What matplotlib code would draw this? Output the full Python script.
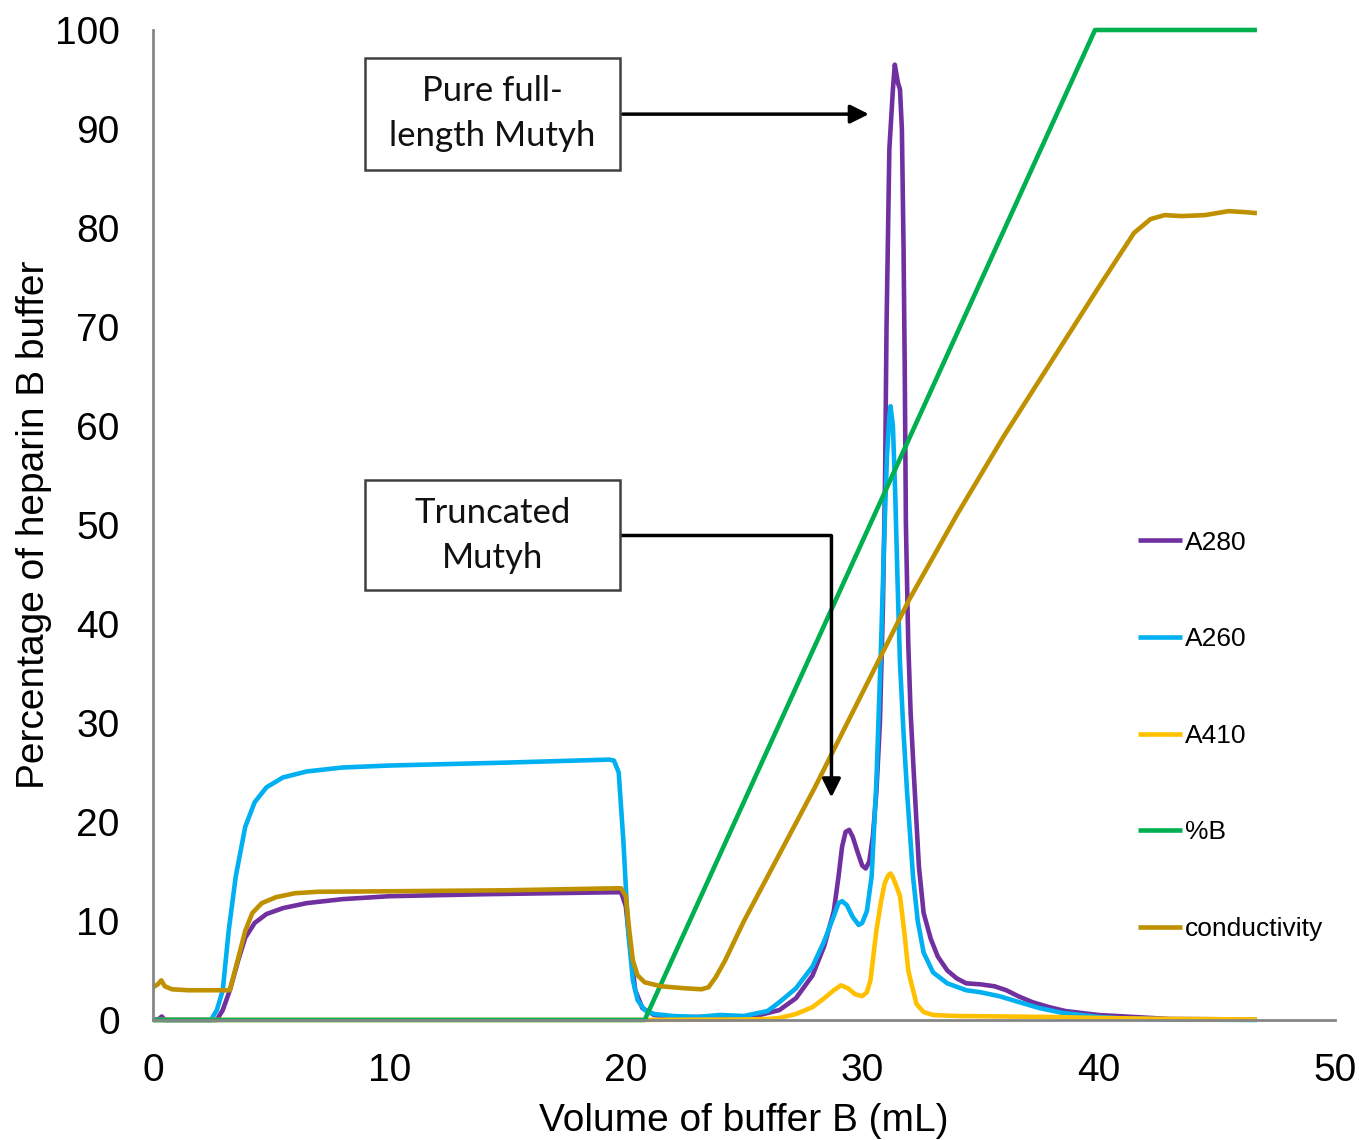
import matplotlib.pyplot as plt
from matplotlib.patches import Rectangle

# values
a280_x = [0, 0.25, 0.37, 0.5, 2.7, 2.95, 3.25, 3.6, 3.9, 4.3, 4.8, 5.5, 6.5, 8, 10, 14, 19.5,
          19.8, 20.0, 20.2, 20.4, 20.7, 21.2, 22, 24, 25.5, 26.5, 27.2, 27.9, 28.4, 28.8,
          29.0, 29.15, 29.3, 29.45, 29.6, 29.8, 30.0, 30.15, 30.3, 30.45, 30.6, 30.75,
          30.88, 30.97, 31.03, 31.15, 31.3, 31.38, 31.45, 31.52, 31.6, 31.68, 31.75, 31.8,
          31.85, 31.95, 32.05, 32.2, 32.4, 32.6, 32.9, 33.2, 33.6, 34.0, 34.4, 35.0, 35.6,
          36.1, 36.6, 37.2, 37.9, 38.6, 39.3, 40, 41.5, 43, 46.7]
a280_y = [0, 0.1, 0.35, 0, 0, 1.0, 3.0, 6.0, 8.3, 9.8, 10.7, 11.3, 11.8, 12.2, 12.5, 12.7, 12.9,
          12.9, 11.5, 7, 3, 1.2, 0.5, 0.3, 0.3, 0.4, 1.0, 2.2, 4.5, 7.5, 11,
          14.5, 17.5, 19.0, 19.2, 18.5, 17, 15.6, 15.3, 16.0, 18.5, 23, 30,
          42, 55, 70, 88, 94, 96.5, 95.5, 94.6, 94, 90, 78, 66,
          50, 38, 31, 24.2, 15.5, 10.8, 8.2, 6.4, 5.0, 4.2, 3.7, 3.6, 3.4,
          3.0, 2.4, 1.8, 1.3, 0.9, 0.7, 0.5, 0.3, 0.1, 0.05]

a260_x = [0, 2.45, 2.7, 2.95, 3.2, 3.5, 3.9, 4.3, 4.8, 5.5, 6.5, 8, 10, 15, 19.3,
          19.5, 19.7, 19.9, 20.1, 20.3, 20.5, 20.8, 21.2, 22, 23, 24, 25, 26, 26.5,
          27.2, 27.9, 28.4, 28.8, 29.0, 29.15, 29.35, 29.6, 29.85, 30.0, 30.2, 30.4,
          30.6, 30.8, 30.95, 31.05, 31.15, 31.2, 31.3, 31.4, 31.5, 31.6, 31.75, 31.9,
          32.15, 32.35, 32.6, 33.0, 33.6, 34.4, 35, 35.8, 36.5, 37.5, 38.5, 40, 41, 43, 46.7]
a260_y = [0, 0, 1, 3, 9, 14.5, 19.5, 22, 23.5, 24.5, 25.1, 25.5, 25.7, 26, 26.3,
          26.2, 25, 18, 9, 4, 2, 1, 0.6, 0.4, 0.3, 0.5, 0.4, 0.9, 1.8,
          3.2, 5.4, 8, 10.5, 11.8, 12.0, 11.6, 10.4, 9.6, 9.8, 11, 14.5,
          24, 38, 50, 57, 61, 62, 60, 53, 44, 36, 29, 23,
          14.5, 10, 6.8, 4.8, 3.7, 3.0, 2.8, 2.4, 1.9, 1.2, 0.7, 0.3, 0.15, 0.05, 0.0]

a410_x = [0, 20, 25, 26, 26.5, 27.2, 27.9, 28.4, 28.8, 29.1, 29.4, 29.7, 30.0, 30.2,
          30.35, 30.6, 30.8, 30.95, 31.1, 31.2, 31.3, 31.45, 31.6, 31.8, 31.95, 32.1,
          32.3, 32.6, 33.0, 34, 36, 38, 40, 43, 46.7]
a410_y = [0, 0, 0.05, 0.1, 0.2, 0.6, 1.3, 2.2, 3.0, 3.5, 3.2, 2.6, 2.4, 2.8,
          4.0, 9, 12, 13.8, 14.6, 14.8, 14.4, 13.5, 12.5, 8.5, 5, 3.5,
          1.6, 0.8, 0.5, 0.4, 0.35, 0.3, 0.2, 0.1, 0.05]

pctb_x = [0, 20.8, 39.85, 46.7]
pctb_y = [0, 0, 100, 100]

cond_x = [0, 0.2, 0.35, 0.5, 0.8, 1.5, 2.5, 3.25, 3.6, 3.9, 4.2, 4.6, 5.2, 6.0, 7.0,
          10, 15, 19.6, 19.8, 20.0, 20.15, 20.3, 20.5, 20.8, 21.5, 22.5, 23.2, 23.5,
          23.8, 24.2, 24.6, 25, 26, 28, 30, 32, 34, 36, 38, 40, 41.5, 42.2, 42.8, 43.5,
          44.5, 45.5, 46.2, 46.7]
cond_y = [3.3, 3.6, 4.0, 3.4, 3.1, 3.0, 3.0, 3.0, 6.2, 9.0, 10.8, 11.8, 12.4, 12.8, 12.95,
          13.0, 13.1, 13.3, 13.3, 12.5, 9, 6, 4.5, 3.8, 3.4, 3.2, 3.1, 3.3,
          4.3, 6.0, 8.0, 10.0, 14.5, 23.5, 33, 42.5, 51, 59, 66.5, 74, 79.5, 80.9, 81.3,
          81.2, 81.3, 81.7, 81.6, 81.5]

series = [
    ('A280', a280_x, a280_y, '#7030A0'),
    ('A260', a260_x, a260_y, '#00B0F0'),
    ('A410', a410_x, a410_y, '#FFC000'),
    ('%B', pctb_x, pctb_y, '#00B050'),
    ('conductivity', cond_x, cond_y, '#BF9000'),
]

plt.rcParams['font.family'] = ['Liberation Sans', 'DejaVu Sans']

fig = plt.figure(figsize=(13.59, 11.40), dpi=100)
ax = fig.add_axes([0.1126, 0.1053, 0.8697, 0.8684])

for name, xs, ys, col in series:
    ax.plot(xs, ys, color=col, lw=3.3, label=name, clip_on=False,
            solid_joinstyle='round', solid_capstyle='butt')

ax.set_xlim(0, 50)
ax.set_ylim(0, 100)
ax.set_xticks(range(0, 51, 10))
ax.set_yticks(range(0, 101, 10))
ax.tick_params(length=0, labelsize=28, pad=24)
ax.tick_params(axis='y', pad=24)
for s in ('top', 'right'):
    ax.spines[s].set_visible(False)
for s in ('left', 'bottom'):
    ax.spines[s].set_color('#868686')
    ax.spines[s].set_linewidth(2)

ax.set_xlabel('Volume of buffer B (mL)', fontsize=28, labelpad=10)
ax.set_ylabel('Percentage of heparin B buffer', fontsize=28, labelpad=2)

leg = ax.legend(loc='center left', bbox_to_anchor=(0.833, 0.287), frameon=False,
                fontsize=19, handlelength=1.7, handletextpad=0.1,
                labelspacing=2.75, borderaxespad=0, borderpad=0)

# annotation boxes
box_font = ['Lato', 'DejaVu Sans']
for (y0, y1, txt) in [(85.9, 97.2, 'Pure full-\nlength Mutyh'),
                      (43.4, 54.5, 'Truncated\nMutyh')]:
    ax.add_patch(Rectangle((8.97, y0), 19.75 - 8.97, y1 - y0, facecolor='white',
                           edgecolor='#404040', lw=1.8, zorder=10, clip_on=False))
    ax.text((8.97 + 19.75) / 2, (y0 + y1) / 2, txt, ha='center', va='center',
            fontsize=25, family=box_font, linespacing=1.5, zorder=11, color='#111111')

ax.annotate('', xy=(30.4, 91.5), xytext=(19.75, 91.5),
            arrowprops=dict(arrowstyle='-|>', color='black', lw=2.5, mutation_scale=28))
ax.plot([19.75, 28.7], [49.0, 49.0], color='black', lw=2.5, solid_capstyle='butt')
ax.annotate('', xy=(28.7, 22.2), xytext=(28.7, 49.2),
            arrowprops=dict(arrowstyle='-|>', color='black', lw=2.5, mutation_scale=28))

fig.savefig('out.png', dpi=100)
